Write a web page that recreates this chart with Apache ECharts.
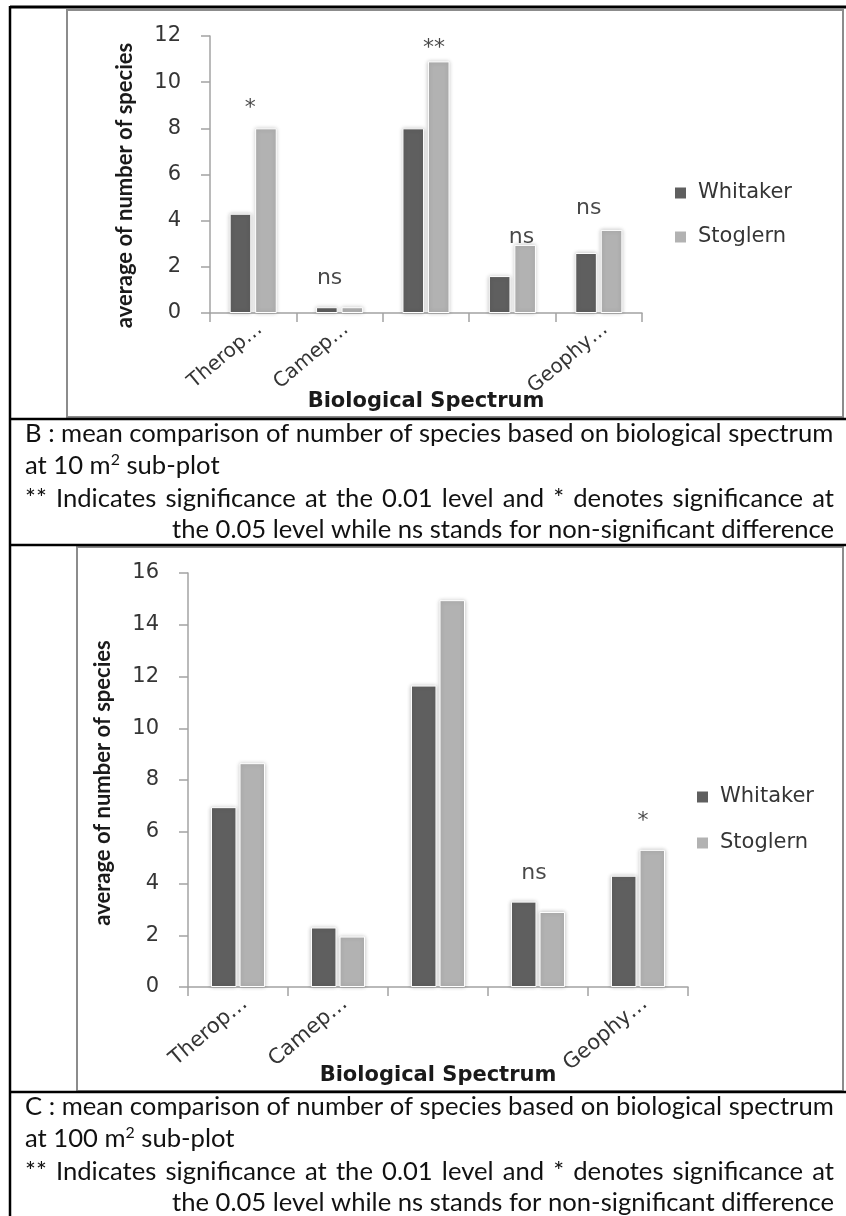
<!DOCTYPE html>
<html><head><meta charset="utf-8">
<script src="https://cdn.jsdelivr.net/npm/echarts@6/dist/echarts.min.js"></script>
<style>html,body{margin:0;padding:0;background:#fff}#c{width:846px;height:1216px}</style>
</head><body><div id="c"></div>
<script>
// ---------- data ----------
const categories = ['Therop…', 'Camep…', 'Hemicr…', 'Phaner…', 'Geophy…'];
const shownLabels = [true, true, false, false, true];
const seriesNames = ['Whitaker', 'Stoglern'];
const whitakerB = [4.3, 0.25, 8.0, 1.6, 2.6];
const stoglernB = [8.0, 0.25, 10.9, 2.95, 3.6];
const whitakerC = [6.95, 2.3, 11.65, 3.3, 4.3];
const stoglernC = [8.65, 1.95, 14.95, 2.9, 5.3];
const sigB = ['*', 'ns', '**', 'ns', 'ns'];
const sigBLevel = [8.85, 1.5, 11.45, 3.3, 4.55];
const sigC = ['', '', '', 'ns', '*'];
const sigCLevel = [null, null, null, 4.4, 6.4];
const yTicksB = [0, 2, 4, 6, 8, 10, 12];
const yTicksC = [0, 2, 4, 6, 8, 10, 12, 14, 16];
const yTitle = 'average of number of species';
const xTitle = 'Biological Spectrum';
const captionB = [
  'B : mean comparison of number of species based on biological spectrum',
  'at 10 m{sup|2} sub-plot',
  '** Indicates significance at the 0.01 level and * denotes significance at',
  'the 0.05 level while ns stands for non-significant difference'
];
const captionC = [
  'C : mean comparison of number of species based on biological spectrum',
  'at 100 m{sup|2} sub-plot',
  '** Indicates significance at the 0.01 level and * denotes significance at',
  'the 0.05 level while ns stands for non-significant difference'
];

// ---------- style ----------
const CAPFONT = 'Lato';
const WIDE = 'DejaVu Sans';
const DARK = '#5f5f5f', LIGHT = '#b2b2b2', AXIS = '#a3a3a3', TXT = '#353535';
const sigOffB = [-3, -10, 8, 9, -10];
const sigOffC = [0, 0, 0, -4, 5];

const ctx = document.createElement('canvas').getContext('2d');
function measure(t, size) { ctx.font = 'normal ' + size + 'px ' + CAPFONT; return ctx.measureText(t).width; }
const capLeft = 25, capRight = 834;
const capSize = 24 * (capRight - capLeft) / measure(captionB[0], 24);

function captionGraphics(lines, ys) {
  const g = [];
  const st = { fontFamily: CAPFONT, fontSize: capSize, fill: '#111' };
  g.push({ type: 'text', left: capLeft, top: ys[0] - capSize * 0.6, style: Object.assign({ text: lines[0] }, st) });
  g.push({ type: 'text', left: capLeft, top: ys[1] - capSize * 0.6, style: Object.assign({ text: lines[1], rich: { sup: { fontFamily: CAPFONT, fontSize: capSize * 0.62, fill: '#111', padding: [0, 0, capSize * 0.45, 0] } } }, st) });
  const words = lines[2].split(' ');
  const ws = words.map(w => measure(w, capSize));
  const gap = ((capRight - capLeft) - ws.reduce((a, b) => a + b, 0)) / (words.length - 1);
  let x = capLeft;
  words.forEach((w, i) => {
    g.push({ type: 'text', x: x, y: ys[2], style: Object.assign({ text: w, textVerticalAlign: 'middle' }, st) });
    x += ws[i] + gap;
  });
  g.push({ type: 'text', x: capRight, y: ys[3], style: Object.assign({ text: lines[3], textAlign: 'right', textVerticalAlign: 'middle' }, st) });
  return g;
}

function xAxisCfg(idx, fs, nameGap) {
  return {
    type: 'category', gridIndex: idx, data: categories,
    name: xTitle, nameLocation: 'middle', nameGap: nameGap, nameMoveOverlap: false,
    nameTextStyle: { fontFamily: WIDE, fontWeight: 'bold', fontSize: 21, color: '#1a1a1a' },
    axisLine: { lineStyle: { color: AXIS, width: 1.5 } },
    axisTick: { show: true, length: 9, interval: 0, alignWithLabel: false, lineStyle: { color: AXIS, width: 1.5 } },
    axisLabel: { interval: (i) => shownLabels[i], rotate: 40, verticalAlign: 'top', fontFamily: WIDE, fontSize: fs, color: TXT, margin: 6 },
    splitLine: { show: false }
  };
}
function yAxisCfg(idx, ticks, fs, namePad) {
  return {
    type: 'value', gridIndex: idx, min: ticks[0], max: ticks[ticks.length - 1], interval: ticks[1] - ticks[0],
    name: yTitle, nameLocation: 'middle', nameGap: 74, nameMoveOverlap: false,
    nameTextStyle: { fontFamily: CAPFONT, fontWeight: 'bold', fontSize: 22, color: '#1a1a1a', padding: namePad },
    axisLine: { show: true, lineStyle: { color: AXIS, width: 1.5 } },
    axisTick: { show: true, length: 9, lineStyle: { color: AXIS, width: 1.5 } },
    axisLabel: { fontFamily: WIDE, fontSize: fs, color: TXT, margin: 29 },
    splitLine: { show: false }
  };
}
function bar(name, data, idx, color, bw, gap) {
  return {
    type: 'bar', name: name, data: data, xAxisIndex: idx, yAxisIndex: idx, barWidth: bw, barGap: gap, silent: true,
    itemStyle: { color: color, borderColor: '#ffffff', borderWidth: 1, shadowBlur: 4, shadowColor: 'rgba(0,0,0,0.22)' }
  };
}
function sig(labels, levels, offs, idx) {
  const data = [];
  labels.forEach((t, i) => { if (t) data.push({ value: [i, levels[i]], label: { formatter: t, offset: [offs[i], 0] } }); });
  return {
    type: 'scatter', xAxisIndex: idx, yAxisIndex: idx, symbolSize: 1, silent: true, z: 5,
    itemStyle: { color: 'rgba(0,0,0,0)' }, data: data,
    label: { show: true, position: 'inside', fontFamily: WIDE, fontSize: 22, color: '#1a1a1a' }
  };
}
function legendCfg(left, top, gap) {
  return { data: seriesNames, orient: 'vertical', left: left, top: top, padding: 0, itemWidth: 13, itemHeight: 13, itemGap: gap, icon: 'rect', selectedMode: false,
    textStyle: { fontFamily: WIDE, fontSize: 21, lineHeight: 22, color: TXT, padding: [0, 0, 0, 6] } };
}

const chart = echarts.init(document.getElementById('c'));
const graphics = [
  { type: 'rect', shape: { x: 67, y: 10, width: 776, height: 407 }, style: { fill: 'none', stroke: '#8c8c8c', lineWidth: 2 }, z: -1 },
  { type: 'rect', shape: { x: 77, y: 547, width: 766, height: 544 }, style: { fill: 'none', stroke: '#8c8c8c', lineWidth: 2 }, z: -1 },
  { type: 'line', shape: { x1: 10, y1: 7, x2: 846, y2: 7 }, style: { stroke: '#000', lineWidth: 3 } },
  { type: 'line', shape: { x1: 10, y1: 6, x2: 10, y2: 1216 }, style: { stroke: '#000', lineWidth: 2.5 } },
  { type: 'line', shape: { x1: 10, y1: 419, x2: 846, y2: 419 }, style: { stroke: '#000', lineWidth: 2.5 } },
  { type: 'line', shape: { x1: 10, y1: 545, x2: 846, y2: 545 }, style: { stroke: '#000', lineWidth: 2.5 } },
  { type: 'line', shape: { x1: 10, y1: 1092, x2: 846, y2: 1092 }, style: { stroke: '#000', lineWidth: 2.5 } }
].concat(captionGraphics(captionB, [436, 467, 499, 530]))
 .concat(captionGraphics(captionC, [1109, 1140, 1172, 1203]));

chart.setOption({
  animation: false,
  backgroundColor: '#ffffff',
  grid: [
    { left: 210, top: 36, width: 432, height: 277 },
    { left: 188, top: 573, width: 500, height: 414 }
  ],
  xAxis: [xAxisCfg(0, 20, 78), xAxisCfg(1, 21, 78)],
  yAxis: [yAxisCfg(0, yTicksB, 21, [0, 22, 0, 0]), yAxisCfg(1, yTicksC, 21, [0, 6, 0, 0])],
  legend: [legendCfg(673, 182, 22), legendCfg(695, 786, 24)],
  series: [
    bar(seriesNames[0], whitakerB, 0, DARK, '25%', '18%'),
    bar(seriesNames[1], stoglernB, 0, LIGHT, '25%', '18%'),
    bar(seriesNames[0], whitakerC, 1, DARK, '25.5%', '12%'),
    bar(seriesNames[1], stoglernC, 1, LIGHT, '25.5%', '12%'),
    sig(sigB, sigBLevel, sigOffB, 0),
    sig(sigC, sigCLevel, sigOffC, 1)
  ],
  graphic: graphics
});
</script></body></html>
